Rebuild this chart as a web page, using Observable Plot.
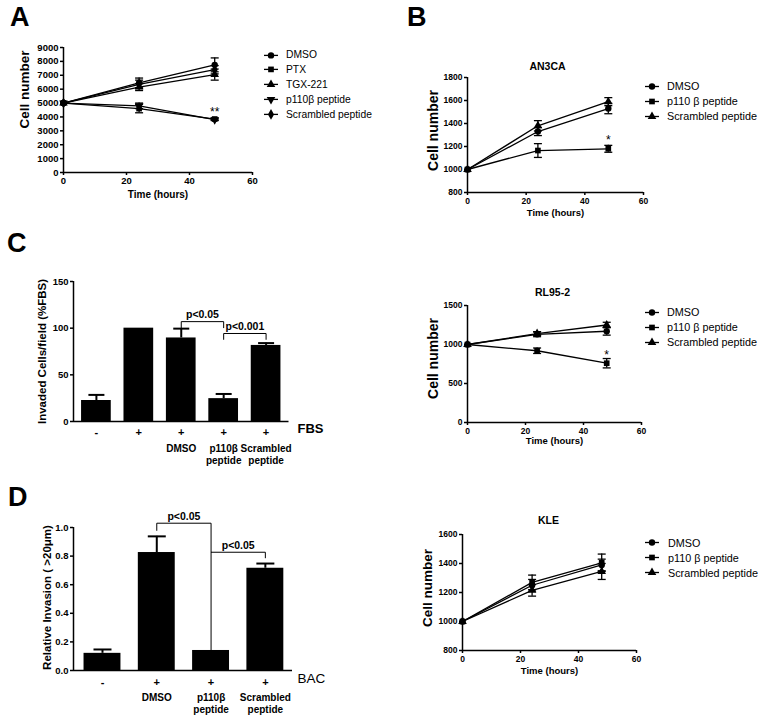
<!DOCTYPE html>
<html><head><meta charset="utf-8">
<script src="https://cdn.jsdelivr.net/npm/d3@7"></script>
<script src="https://cdn.jsdelivr.net/npm/@observablehq/plot@0.6"></script>
<style>
body{margin:0;background:#fff;}
#fig{position:relative;width:764px;height:719px;overflow:hidden;background:#fff;font-family:"Liberation Sans",Arial,Helvetica,sans-serif;color:#000;}
.box{position:absolute;}
.letter{position:absolute;font-weight:bold;font-size:27px;line-height:27px;}
.legend{position:absolute;}
.legend .row{display:flex;align-items:center;white-space:nowrap;}
g[aria-label="x-axis tick"], g[aria-label="y-axis tick"]{stroke-width:1.5px;}
</style></head><body><div id="fig"></div>
<script>
// ---------- data ----------
const hours = [0, 24, 48];

// Panel A
const aNames = ["DMSO", "PTX", "TGX-221", "p110β peptide", "Scrambled peptide"];
const aSymbols = ["circle", "square", "triangle", "triangle-down", "diamond"];
const aMeans = [[5000, 6450, 7750], [5000, 4600, 3850], [5000, 6150, 7050], [5000, 4800, 3800], [5000, 6350, 7400]];
const aErrs = [[0, 350, 500], [0, 300, 80], [0, 250, 400], [0, 200, 60], [0, 300, 300]];
const aYTicks = [0, 1000, 2000, 3000, 4000, 5000, 6000, 7000, 8000, 9000];

// Panel B (three cell lines)
const bNames = ["DMSO", "p110 β peptide", "Scrambled peptide"];
const bSymbols = ["circle", "square", "triangle"];
const an3caMeans = [[1000, 1330, 1530], [1000, 1165, 1180], [1000, 1380, 1590]];
const an3caErrs = [[0, 35, 45], [0, 60, 30], [0, 45, 35]];
const rl95Means = [[1000, 1130, 1170], [1000, 920, 760], [1000, 1140, 1250]];
const rl95Errs = [[0, 30, 50], [0, 35, 60], [0, 25, 35]];
const kleMeans = [[1000, 1250, 1390], [1000, 1270, 1405], [1000, 1215, 1345]];
const kleErrs = [[0, 40, 40], [0, 50, 60], [0, 40, 55]];
const timeTicks = [0, 20, 40, 60];

// Panel C
const cSigns = ["-", "+", "+", "+", "+"];
const cNames = ["", "", "DMSO", "p110β\npeptide", "Scrambled\npeptide"];
const cValues = [22.5, 100, 89.5, 24.5, 81.5];
const cErrs = [6, 0, 10, 5, 2.5];
const cYTicks = [0, 50, 100, 150];
const cBrackets = [
  {from: 2, to: 3, y: 107, yFrom: 100.5, yTo: 100.5, label: "p<0.05"},
  {from: 3, to: 4, y: 94.3, yFrom: 88, yTo: 88, label: "p<0.001"}
];

// Panel D
const dSigns = ["-", "+", "+", "+"];
const dNames = ["", "DMSO", "p110β\npeptide", "Scrambled\npeptide"];
const dValues = [0.12, 0.825, 0.14, 0.715];
const dErrs = [0.027, 0.113, 0, 0.033];
const dYTicks = [0, 0.2, 0.4, 0.6, 0.8, 1.0];
const dBrackets = [
  {from: 1, to: 2, y: 1.03, yFrom: 0.98, yTo: 0.14, label: "p<0.05"},
  {from: 2, to: 3, y: 0.827, yFrom: 0.827, yTo: 0.788, label: "p<0.05"}
];

// ---------- helpers ----------
const FONT = '"Liberation Sans", Arial, Helvetica, sans-serif';
const fig = document.getElementById("fig");
const triangleDown = {draw(ctx, size) {
  const y = -Math.sqrt(size / (Math.sqrt(3) * 3));
  ctx.moveTo(0, -y * 2); ctx.lineTo(-Math.sqrt(3) * y, y); ctx.lineTo(Math.sqrt(3) * y, y); ctx.closePath();
}};
const capSymbol = {draw(ctx, size) {
  const r = Math.sqrt(size / Math.PI);
  ctx.moveTo(-r, 0); ctx.lineTo(r, 0);
}};
const symbolMap = {circle: d3.symbolCircle, square: d3.symbolSquare, triangle: d3.symbolTriangle, "triangle-down": triangleDown, diamond: d3.symbolDiamond};
const MARK_R = 3.2;

function place(el, left, top) {
  const wrap = document.createElement("div");
  wrap.className = "box";
  wrap.style.left = left + "px";
  wrap.style.top = top + "px";
  wrap.appendChild(el);
  fig.appendChild(wrap);
}

function letter(txt, left, top) {
  const d = document.createElement("div");
  d.className = "letter";
  d.textContent = txt;
  d.style.left = left + "px";
  d.style.top = top + "px";
  fig.appendChild(d);
}

function legend(names, symbols, left, top, rowH, gap, fontSize) {
  const div = document.createElement("div");
  div.className = "legend";
  div.style.left = left + "px";
  div.style.top = top + "px";
  div.style.fontSize = fontSize + "px";
  names.forEach((n, i) => {
    const row = document.createElement("div");
    row.className = "row";
    row.style.height = rowH + "px";
    const svg = d3.create("svg").attr("width", gap).attr("height", rowH).style("flex", "none");
    svg.append("line").attr("x1", 0).attr("x2", 14).attr("y1", rowH / 2).attr("y2", rowH / 2)
      .attr("stroke", "black").attr("stroke-width", 1.3);
    svg.append("path").attr("d", d3.symbol(symbolMap[symbols[i]], Math.PI * MARK_R * MARK_R)())
      .attr("transform", `translate(7,${rowH / 2})`).attr("fill", "black");
    row.appendChild(svg.node());
    const span = document.createElement("span");
    span.textContent = n;
    row.appendChild(span);
    div.appendChild(row);
  });
  fig.appendChild(div);
}

function lineChart(cfg) {
  const rows = cfg.names.flatMap((name, s) => hours.map((t, i) => ({series: name, s, t, v: cfg.means[s][i], e: cfg.errs[s][i]})));
  const withErr = rows.filter(d => d.e > 0);
  const star = rows.filter(d => d.s === cfg.star.series && d.t === cfg.star.t);
  const marks = [
    Plot.ruleY([cfg.yDomain[0]], {strokeWidth: 1.5}),
    Plot.ruleX([0], {strokeWidth: 1.5}),
    Plot.line(rows, {x: "t", y: "v", z: "series", stroke: "black", strokeWidth: 1.3}),
    Plot.ruleX(withErr, {x: "t", y1: d => d.v - d.e, y2: d => d.v + d.e, strokeWidth: 1.3}),
    Plot.dot(withErr, {x: "t", y: d => d.v + d.e, symbol: capSymbol, r: 4, fill: "none", stroke: "black", strokeWidth: 1.3}),
    Plot.dot(withErr, {x: "t", y: d => d.v - d.e, symbol: capSymbol, r: 4, fill: "none", stroke: "black", strokeWidth: 1.3}),
    ...cfg.names.map((name, s) => Plot.dot(rows.filter(d => d.s === s), {x: "t", y: "v", symbol: symbolMap[cfg.symbols[s]], r: MARK_R, fill: "black", stroke: "none"})),
    Plot.text(star, {x: "t", y: d => d.v + d.e, text: () => cfg.star.text, dy: cfg.star.dy, fontSize: 12, fontWeight: "normal"}),
    Plot.text([cfg.ylabel], {frameAnchor: "left", textAnchor: "middle", rotate: -90, dx: cfg.ylabelDx, dy: cfg.ylabelDy, fontSize: cfg.ylabelSize, fontWeight: "bold"}),
    Plot.text(["Time (hours)"], {frameAnchor: "bottom", textAnchor: "middle", dy: cfg.xlabelDy, fontSize: cfg.xlabelSize, fontWeight: "bold"})
  ];
  if (cfg.title) marks.push(Plot.text([cfg.title], {frameAnchor: "top", textAnchor: "middle", dx: cfg.titleDx, dy: cfg.titleDy, fontSize: 10.5, fontWeight: "bold"}));
  return Plot.plot({
    width: cfg.width, height: cfg.height,
    marginLeft: cfg.m[0], marginRight: cfg.m[1], marginTop: cfg.m[2], marginBottom: cfg.m[3],
    x: {domain: [0, 60], ticks: timeTicks, tickSize: 3, tickPadding: 2, tickFormat: "d", label: null},
    y: {domain: cfg.yDomain, ticks: cfg.yTicks, tickSize: 3, tickPadding: 2, tickFormat: "d", label: null},
    style: {fontFamily: FONT, fontSize: cfg.tickSize + "px", fontWeight: "bold", background: "transparent", color: "black", overflow: "visible"},
    marks
  });
}

function barChart(cfg) {
  const rows = cfg.values.map((v, i) => ({i, v, e: cfg.errs[i], sign: cfg.signs[i], name: cfg.names[i]}));
  const withErr = rows.filter(d => d.e > 0);
  const half = cfg.barWidth / 2;
  const bracketPts = cfg.brackets.flatMap((b, k) => [
    {k, x: b.from, y: b.yFrom}, {k, x: b.from, y: b.y}, {k, x: b.to, y: b.y}, {k, x: b.to, y: b.yTo}
  ]);
  return Plot.plot({
    width: cfg.width, height: cfg.height,
    marginLeft: cfg.m[0], marginRight: cfg.m[1], marginTop: cfg.m[2], marginBottom: cfg.m[3],
    x: {domain: cfg.xDomain, axis: null},
    y: {domain: cfg.yDomain, ticks: cfg.yTicks, tickSize: 3, tickPadding: 2, tickFormat: cfg.tickFormat, label: null},
    style: {fontFamily: FONT, fontSize: cfg.tickSize + "px", fontWeight: "bold", background: "transparent", color: "black", overflow: "visible"},
    marks: [
      Plot.rectY(rows, {x1: d => d.i - half, x2: d => d.i + half, y1: 0, y2: "v", fill: "black"}),
      Plot.ruleX(withErr, {x: "i", y1: "v", y2: d => d.v + d.e, strokeWidth: 2}),
      Plot.dot(withErr, {x: "i", y: d => d.v + d.e, symbol: capSymbol, r: cfg.cap, fill: "none", stroke: "black", strokeWidth: 2}),
      Plot.ruleY([0], {strokeWidth: 1.5}),
      Plot.ruleX([cfg.xDomain[0]], {strokeWidth: 1.5}),
      Plot.line(bracketPts, {x: "x", y: "y", z: "k", stroke: "black", strokeWidth: 1}),
      Plot.text(cfg.brackets, {x: b => (b.from + b.to) / 2, y: "y", text: "label", dy: -7, fontSize: 10.5, fontWeight: "bold"}),
      Plot.text(rows, {x: "i", y: 0, text: "sign", dy: cfg.signDy, fontSize: 11, fontWeight: "bold"}),
      Plot.text(rows, {x: "i", y: 0, text: "name", dy: cfg.nameDy, lineAnchor: "top", lineHeight: 1.2, fontSize: 10, fontWeight: "bold"}),
      Plot.text([cfg.factor], {frameAnchor: "bottom-right", textAnchor: "start", dx: cfg.factorDx, dy: cfg.factorDy, fontSize: cfg.factorSize, fontWeight: cfg.factorWeight}),
      Plot.text([cfg.ylabel], {frameAnchor: "left", textAnchor: "middle", rotate: -90, dx: cfg.ylabelDx, dy: cfg.ylabelDy, fontSize: 11.5, fontWeight: "bold"})
    ]
  });
}

// ---------- Panel A ----------
letter("A", 10, 4);
place(lineChart({
  names: aNames, symbols: aSymbols, means: aMeans, errs: aErrs,
  yDomain: [0, 9000], yTicks: aYTicks, width: 380, height: 215, m: [63, 128, 47, 43],
  tickSize: 9.5, ylabel: "Cell number", ylabelDx: -39, ylabelDy: -20.5, ylabelSize: 13.5,
  xlabelDy: 25, xlabelSize: 10,
  star: {series: 1, t: 48, text: "**", dy: -5.5}
}), 0, 0);
legend(aNames, aSymbols, 264, 47.5, 14.8, 22, 10.3);

// ---------- Panel B: AN3CA ----------
letter("B", 407, 4);
place(lineChart({
  names: bNames, symbols: bSymbols, means: an3caMeans, errs: an3caErrs,
  yDomain: [800, 1800], yTicks: [800, 1000, 1200, 1400, 1600, 1800], width: 384, height: 200, m: [87, 121, 47, 38],
  tickSize: 8.5, ylabel: "Cell number", ylabelDx: -34, ylabelDy: -4.5, ylabelSize: 14,
  xlabelDy: 23, xlabelSize: 9.5, title: "AN3CA", titleDx: -8, titleDy: -15,
  star: {series: 1, t: 48, text: "*", dy: -5}
}), 380, 30);
legend(bNames, bSymbols, 645, 78.5, 15, 22, 10.8);

// ---------- RL95-2 ----------
place(lineChart({
  names: bNames, symbols: bSymbols, means: rl95Means, errs: rl95Errs,
  yDomain: [0, 1500], yTicks: [0, 500, 1000, 1500], width: 384, height: 205, m: [87, 123, 55, 33],
  tickSize: 8.5, ylabel: "Cell number", ylabelDx: -34, ylabelDy: -5.5, ylabelSize: 14,
  xlabelDy: 21, xlabelSize: 9.5, title: "RL95-2", titleDx: -2, titleDy: -17,
  star: {series: 1, t: 48, text: "*", dy: -3.5}
}), 380, 250);
legend(bNames, bSymbols, 645, 304.5, 15, 22, 10.8);

// ---------- KLE ----------
place(lineChart({
  names: bNames, symbols: bSymbols, means: kleMeans, errs: kleErrs,
  yDomain: [800, 1600], yTicks: [800, 1000, 1200, 1400, 1600], width: 384, height: 210, m: [82, 128, 54, 40],
  tickSize: 8.5, ylabel: "Cell number", ylabelDx: -35, ylabelDy: -4.5, ylabelSize: 13.5,
  xlabelDy: 23, xlabelSize: 9.5, title: "KLE", titleDx: -1, titleDy: -18,
  star: {series: -1, t: 48, text: "", dy: 0}
}), 380, 480);
legend(bNames, bSymbols, 645, 535, 15, 23, 10.8);

// ---------- Panel C ----------
letter("C", 7, 230);
place(barChart({
  values: cValues, errs: cErrs, signs: cSigns, names: cNames, brackets: cBrackets,
  xDomain: [-0.54, 4.54], yDomain: [0, 150], yTicks: cYTicks, tickFormat: "d", barWidth: 0.7, cap: 8,
  width: 380, height: 210, m: [73, 91.5, 21, 49], tickSize: 9.5,
  signDy: 11, nameDy: 21.5, factor: "FBS", factorDx: 8.5, factorDy: 11, factorSize: 13, factorWeight: "bold",
  ylabel: "Invaded Cells/field (%FBS)", ylabelDx: -31, ylabelDy: 0
}), 0, 260);

// ---------- Panel D ----------
letter("D", 8, 484);
place(barChart({
  values: dValues, errs: dErrs, signs: dSigns, names: dNames, brackets: dBrackets,
  xDomain: [-0.534, 3.5], yDomain: [0, 1], yTicks: dYTicks, tickFormat: ".1f", barWidth: 0.68, cap: 9,
  width: 380, height: 229, m: [73, 88, 37, 49], tickSize: 9.5,
  signDy: 12, nameDy: 21.5, factor: "BAC", factorDx: 5, factorDy: 12, factorSize: 13.5, factorWeight: "normal",
  ylabel: "Relative Invasion ( >20μm)", ylabelDx: -26, ylabelDy: -1.5
}), 0, 490);
</script>
</body></html>
